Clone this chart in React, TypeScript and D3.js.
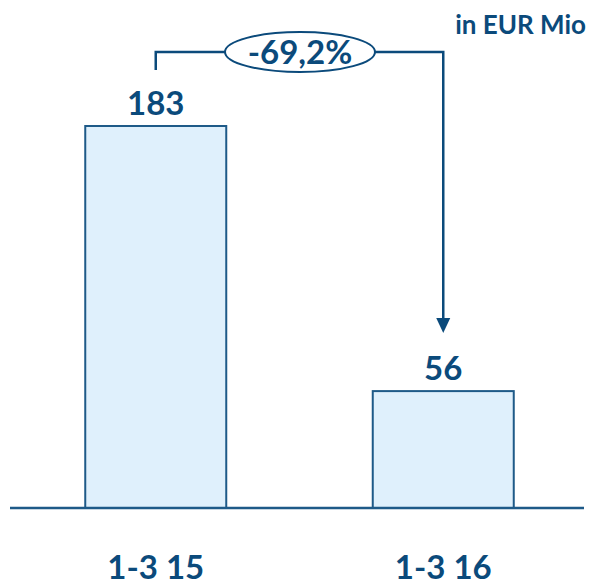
import React from "react";
import * as d3 from "d3";

const categories = ["1-3 15", "1-3 16"];
const values = [183, 56];
const changeLabel = "-69,2%";
const unitLabel = "in EUR Mio";

const W = 592;
const H = 582;
const DARK = "#0b4a7b";
const FONT = "Lato, 'Open Sans', sans-serif";

export default function App() {
  const x = d3.scalePoint<string>().domain(categories).range([12, 587]).padding(0.5);
  const y = d3.scaleLinear().domain([0, 183]).range([508, 126]);
  const bw = 141;
  const x0 = x(categories[0])!;
  const x1 = x(categories[1])!;
  const topY = 52;
  const ecx = 300;
  const erx = 75;
  const arrowTip = y(values[1]) - 58;
  return (
    <svg width={W} height={H} style={{ position: "absolute", left: 0, top: 0 }}>
      <rect width={W} height={H} fill="#fff" />
      {categories.map((c, i) => (
        <g key={c}>
          <rect
            x={x(c)! - bw / 2}
            y={y(values[i])}
            width={bw}
            height={y(0) - y(values[i])}
            fill="#dff0fc"
            stroke="#1e5a88"
            strokeWidth={2}
          />
          <text
            x={x(c)!}
            y={y(values[i]) - 11}
            textAnchor="middle"
            fontFamily={FONT}
            fontWeight={700}
            fontSize={33}
            fill={DARK}
          >
            {values[i]}
          </text>
          <text
            x={x(c)!}
            y={579}
            textAnchor="middle"
            fontFamily={FONT}
            fontWeight={700}
            fontSize={33}
            fill={DARK}
          >
            {c}
          </text>
        </g>
      ))}
      <line x1={10} x2={584} y1={y(0)} y2={y(0)} stroke="#1e5a88" strokeWidth={2.5} />
      <path
        d={`M${x0},70 V${topY} H${ecx - erx} M${ecx + erx},${topY} H${x1} V${arrowTip - 14}`}
        fill="none"
        stroke={DARK}
        strokeWidth={2.5}
      />
      <path d={`M${x1 - 7},${arrowTip - 15} L${x1 + 7},${arrowTip - 15} L${x1},${arrowTip} Z`} fill={DARK} />
      <ellipse cx={ecx} cy={topY} rx={erx} ry={20} fill="#fff" stroke={DARK} strokeWidth={2} />
      <text
        x={ecx}
        y={topY + 12}
        textAnchor="middle"
        fontFamily={FONT}
        fontWeight={700}
        fontSize={33}
        fill={DARK}
      >
        {changeLabel}
      </text>
      <text
        x={586}
        y={34}
        textAnchor="end"
        fontFamily={FONT}
        fontWeight={700}
        fontSize={26}
        fill={DARK}
      >
        {unitLabel}
      </text>
    </svg>
  );
}
